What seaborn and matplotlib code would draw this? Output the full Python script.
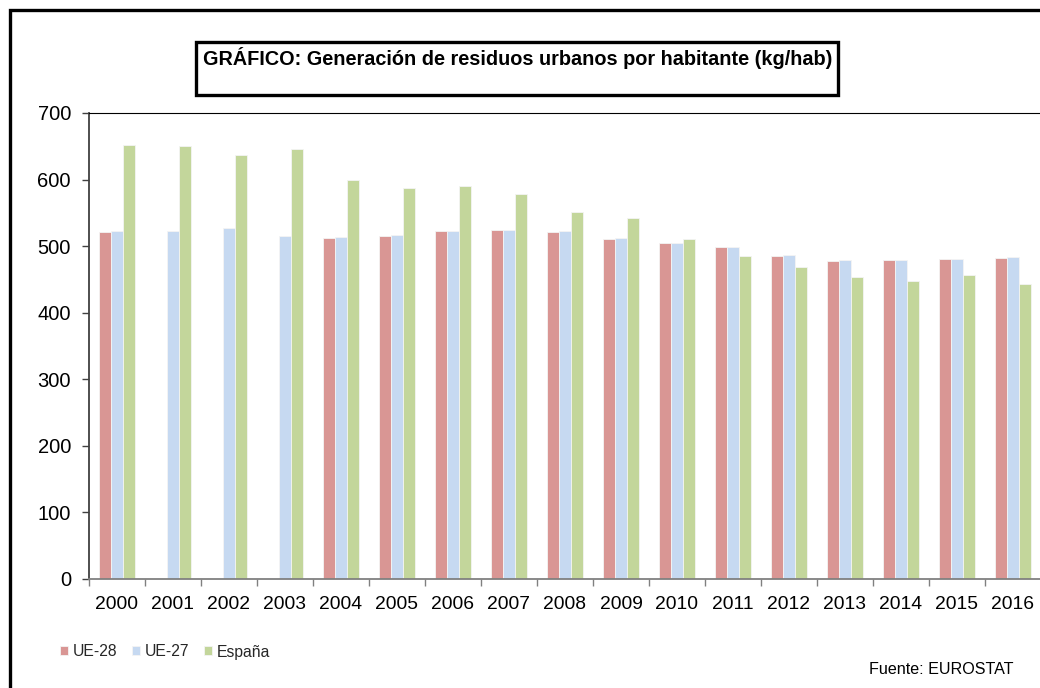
import matplotlib
matplotlib.use("Agg")
import matplotlib.pyplot as plt
import matplotlib.patches as mpatches
from matplotlib.ticker import FixedLocator, MultipleLocator
import numpy as np
import pandas as pd
import seaborn as sns

years = ["2000", "2001", "2002", "2003", "2004", "2005", "2006", "2007", "2008",
         "2009", "2010", "2011", "2012", "2013", "2014", "2015", "2016"]
ue28 = [521, np.nan, np.nan, np.nan, 512, 515, 522, 524, 521, 511, 504, 498, 485, 478, 479, 481, 482]
ue27 = [523, 522, 527, 515, 514, 517, 523, 525, 522, 512, 505, 499, 486, 479, 479, 481, 483]
espana = [652, 651, 637, 646, 600, 588, 590, 578, 551, 542, 510, 485, 468, 454, 448, 456, 443]
series_names = ["UE-28", "UE-27", "España"]
colors = ["#D99694", "#C6D9F1", "#C3D69B"]

df = pd.DataFrame({"year": years * 3,
                   "serie": [series_names[0]] * len(years) + [series_names[1]] * len(years) + [series_names[2]] * len(years),
                   "valor": ue28 + ue27 + espana})

sns.set_theme(style="white")
plt.rcParams["font.family"] = ["Liberation Sans", "DejaVu Sans"]

fig = plt.figure(figsize=(10.4, 6.88), dpi=100)
ax = fig.add_axes([89 / 1040, 1 - 579 / 688, 952 / 1040, (579 - 113) / 688])

sns.barplot(data=df, x="year", y="valor", hue="serie", hue_order=series_names,
            order=years, palette=colors, width=0.66, gap=0, ax=ax,
            edgecolor="#f4f4f4", linewidth=0.6, saturation=1, legend=True)

ax.set_ylim(0, 700)
ax.set_xlim(-0.5, len(years) - 0.5)
ax.yaxis.set_major_locator(MultipleLocator(100))
ax.set_xlabel("")
ax.set_ylabel("")

for s in ["left", "bottom", "top", "right"]:
    ax.spines[s].set_visible(True)
ax.spines["left"].set_color("#404040")
ax.spines["left"].set_linewidth(1.3)
ax.spines["bottom"].set_color("#808080")
ax.spines["bottom"].set_linewidth(1.3)
ax.spines["top"].set_color("black")
ax.spines["top"].set_linewidth(0.8)
ax.spines["right"].set_color("black")
ax.spines["right"].set_linewidth(0.8)

ax.tick_params(axis="y", which="major", left=True, length=5, width=1.0, color="#404040",
               labelsize=14.5, labelcolor="black", pad=8)
ax.tick_params(axis="x", which="major", bottom=False, length=0, labelsize=13.9,
               labelcolor="black", pad=12)
ax.xaxis.set_minor_locator(FixedLocator(np.arange(-0.5, len(years), 1.0)))
ax.tick_params(axis="x", which="minor", bottom=True, length=5, width=1.0, color="#808080")

leg = ax.get_legend()
handles = leg.legend_handles
leg.remove()
fig.legend(handles, series_names, loc="center left", bbox_to_anchor=(60 / 1040, 1 - 652 / 688),
           ncol=3, frameon=False, fontsize=11.3, handlelength=0.5, handleheight=0.5,
           handletextpad=0.3, columnspacing=0.95, borderaxespad=0, borderpad=0)

# outer frame
fig.patches.append(mpatches.Rectangle((9.5 / 1040, -0.5), 2.0, 0.5 + 1 - 9.5 / 688,
                                      transform=fig.transFigure, fill=False,
                                      edgecolor="black", linewidth=2.4))
# title box
fig.patches.append(mpatches.Rectangle((196 / 1040, 1 - 95 / 688), 642 / 1040, 53 / 688,
                                      transform=fig.transFigure, fill=False,
                                      edgecolor="black", linewidth=2.4))
fig.text(203 / 1040, 1 - 65 / 688, "GRÁFICO: Generación de residuos urbanos por habitante (kg/hab)",
         fontsize=14.3, fontweight="bold", ha="left", va="baseline", color="black")
fig.text(869 / 1040, 1 - 674 / 688, "Fuente: EUROSTAT", fontsize=11.6, ha="left",
         va="baseline", color="black")

fig.savefig("out.png", dpi=100)
